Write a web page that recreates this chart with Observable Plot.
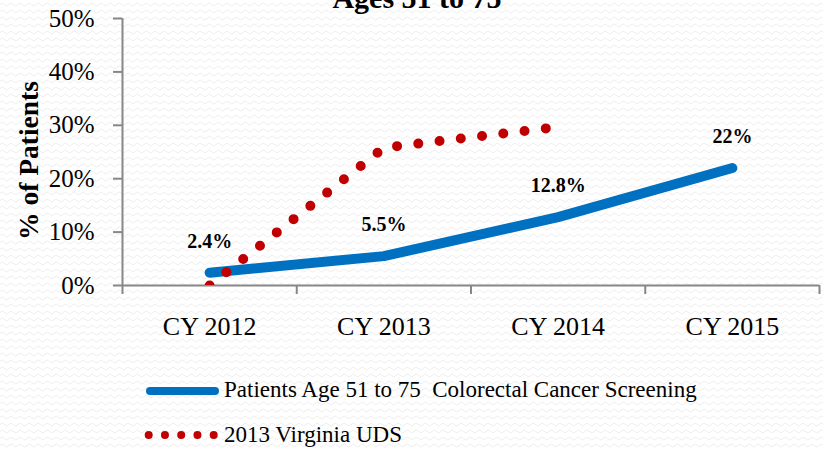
<!DOCTYPE html>
<html>
<head>
<meta charset="utf-8">
<script src="https://cdn.jsdelivr.net/npm/d3@7"></script>
<script src="https://cdn.jsdelivr.net/npm/@observablehq/plot@0.6"></script>
<style>
  html, body { margin: 0; padding: 0; }
  body {
    width: 823px; height: 449px; overflow: hidden;
    background-color: #ffffff;
    background-image: url("data:image/svg+xml;utf8,<svg xmlns='http://www.w3.org/2000/svg' width='9' height='7'><path d='M0 4.5 Q2.25 1.5 4.5 4.5 T9 4.5' fill='none' stroke='%23ededed' stroke-width='1'/></svg>");
    font-family: "Liberation Serif", serif;
  }
  #wrap { position: relative; width: 823px; height: 449px; }
  #title { position: absolute; left: 0; width: 834px; top: -17px; text-align: center;
           font-weight: bold; font-size: 30px; line-height: 30px; color: #000; }
  #chart { position: absolute; left: 0; top: 0; }
  .lg { position: absolute; left: 224px; font-size: 23px; line-height: 23px; color: #000; white-space: pre; }
  .sw { position: absolute; left: 140px; }
</style>
</head>
<body>
<div id="wrap">
  <div id="chart"></div>
  <div id="title">Ages 51 to 75</div>
  <svg class="sw" style="top:380px" width="90" height="22">
    <line x1="10" y1="11" x2="75" y2="11" stroke="#0070C0" stroke-width="8" stroke-linecap="round"></line>
  </svg>
  <div class="lg" style="top:378px">Patients Age 51 to 75  Colorectal Cancer Screening</div>
  <svg class="sw" style="top:424px" width="90" height="22">
    <line x1="8.7" y1="11" x2="75" y2="11" stroke="#C00000" stroke-width="8" stroke-linecap="round" stroke-dasharray="0,16.25"></line>
  </svg>
  <div class="lg" style="top:423px">2013 Virginia UDS</div>
</div>
<script>
const categories = ["CY 2012", "CY 2013", "CY 2014", "CY 2015"];
const screeningValues = [2.4, 5.5, 12.8, 22];
const screeningLabels = ["2.4%", "5.5%", "12.8%", "22%"];
const udsValues = [0, 25.8, 29.7]; // CY 2012 .. CY 2014
const yTicks = [0, 10, 20, 30, 40, 50];
const yTitle = "% of Patients";

const blueData = screeningValues.map((v, i) => ({i, v, label: screeningLabels[i]}));
const redData = udsValues.map((v, i) => ({i, v}));
const catIdx = categories.map((c, i) => i);
const bounds = [-0.5, ...catIdx.map(i => i + 0.5)];

const axisColor = "#878787";

const plot = Plot.plot({
  width: 823,
  height: 360,
  marginTop: 18,
  marginBottom: 75,
  marginLeft: 122,
  marginRight: 4,
  style: {background: "transparent", fontFamily: "Liberation Serif, serif", color: "#000", overflow: "visible"},
  x: {type: "linear", domain: [-0.5, catIdx.length - 0.5]},
  y: {domain: [0, 50]},
  marks: [
    Plot.ruleX([-0.5], {stroke: axisColor, strokeWidth: 2}),
    Plot.ruleY([0], {stroke: axisColor, strokeWidth: 2}),
    Plot.axisY({ticks: yTicks, tickFormat: d => d + "%", tickSize: 9, tickPadding: 19,
      fontSize: 25, stroke: axisColor, strokeWidth: 2, strokeOpacity: 1, fill: "#000", label: null}),
    Plot.axisX({ticks: bounds, tickFormat: () => "", tickSize: 9, stroke: axisColor,
      strokeWidth: 2, strokeOpacity: 1, label: null}),
    Plot.axisX({ticks: catIdx, tickFormat: i => categories[i], tickSize: 0, tickPadding: 31.5,
      fontSize: 26, fill: "#000", label: null}),
    Plot.line(blueData, {x: "i", y: "v", stroke: "#0070C0", strokeWidth: 10, strokeLinecap: "round", strokeLinejoin: "round"}),
    Plot.line(redData, {x: "i", y: "v", stroke: "#C00000", strokeWidth: 10, strokeLinecap: "round",
      strokeDasharray: "0,21.4", clip: true}),
    Plot.text(blueData, {x: "i", y: "v", text: "label", dy: -25, lineAnchor: "bottom",
      fontWeight: "bold", fontSize: 20, fill: "#000"}),
    Plot.text([yTitle], {frameAnchor: "left", textAnchor: "middle", lineAnchor: "middle",
      dx: -93, dy: 8.5, rotate: -90, fontWeight: "bold", fontSize: 27.5, fill: "#000", text: d => d})
  ]
});
document.getElementById("chart").appendChild(plot);
</script>
</body>
</html>
